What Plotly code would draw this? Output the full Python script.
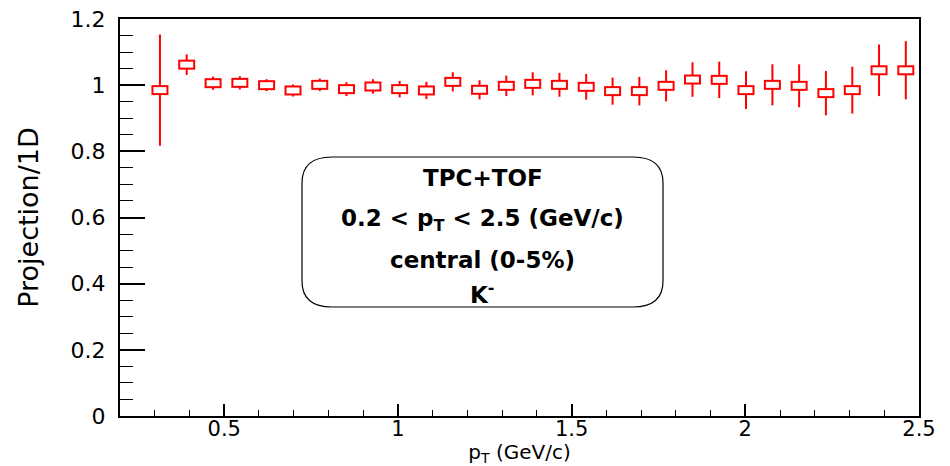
import plotly.graph_objects as go

# ---- data ----
pt = [0.315, 0.392, 0.468, 0.545, 0.622, 0.698, 0.775, 0.852, 0.928, 1.005,
      1.082, 1.158, 1.235, 1.312, 1.388, 1.465, 1.542, 1.618, 1.695, 1.772,
      1.848, 1.925, 2.002, 2.078, 2.155, 2.232, 2.308, 2.385, 2.462]
ratio = [0.985, 1.062, 1.006, 1.007, 1.000, 0.984, 1.001, 0.988, 0.996, 0.988,
         0.984, 1.010, 0.986, 0.998, 1.004, 1.001, 0.995, 0.982, 0.982, 0.998,
         1.017, 1.016, 0.985, 1.001, 0.998, 0.976, 0.985, 1.045, 1.045]
ratio_err = [0.168, 0.031, 0.020, 0.020, 0.018, 0.018, 0.019, 0.021, 0.022, 0.025,
             0.026, 0.029, 0.029, 0.031, 0.035, 0.036, 0.039, 0.041, 0.043, 0.047,
             0.052, 0.055, 0.057, 0.062, 0.065, 0.067, 0.071, 0.078, 0.088]
x_ticks = [0.5, 1, 1.5, 2, 2.5]
x_ticklabels = ["0.5", "1", "1.5", "2", "2.5"]
y_ticks = [0, 0.2, 0.4, 0.6, 0.8, 1, 1.2]
y_ticklabels = ["0", "0.2", "0.4", "0.6", "0.8", "1", "1.2"]
box_lines = ["<b>TPC+TOF</b>",
             "<b>0.2 < p<sub>T</sub> < 2.5 (GeV/c)</b>",
             "<b>central (0-5%)</b>",
             "<b>K<sup>-</sup></b>"]

# ---- layout geometry (page has an 8px body margin) ----
OFF = 8
W, H = 950 - OFF, 466 - OFF
ML, MT = 120 - OFF, 19 - OFF
MR = W - (919 - OFF)
MB = H - (416 - OFF)
PW, PH = W - ML - MR, H - MT - MB
XR = [0.2, 2.5]
YR = [0, 1.2]
px_per_x = PW / (XR[1] - XR[0])

RED = "#ff0000"
FONT = "DejaVu Sans"

# marker box: 17 x 10 px outer, 2 px line
outer_hw = [8.5 / px_per_x] * len(pt)
inner_hw = [6.5 / px_per_x] * len(pt)

fig = go.Figure()
fig.add_trace(go.Scatter(
    x=pt, y=ratio, mode="markers",
    marker=dict(size=1, color="rgba(0,0,0,0)"),
    error_y=dict(type="data", array=ratio_err, color=RED, thickness=2, width=0),
    error_x=dict(type="data", array=outer_hw, color=RED, thickness=10, width=0),
    showlegend=False, hoverinfo="skip"))
fig.add_trace(go.Scatter(
    x=pt, y=ratio, mode="markers",
    marker=dict(size=1, color="rgba(0,0,0,0)"),
    error_x=dict(type="data", array=inner_hw, color="white", thickness=6, width=0),
    showlegend=False, hoverinfo="skip"))

# rounded text box (paper coordinates, given in page pixels)
def px2paper(px, py):
    return (px - OFF - ML) / PW, (H - MB - (py - OFF)) / PH

x0, y0 = px2paper(302, 157)
x1, y1 = px2paper(663, 307)
rx, ry = 30 / PW, 26 / PH
path = (f"M {x0+rx},{y0} L {x1-rx},{y0} Q {x1},{y0} {x1},{y0-ry} "
        f"L {x1},{y1+ry} Q {x1},{y1} {x1-rx},{y1} L {x0+rx},{y1} "
        f"Q {x0},{y1} {x0},{y1+ry} L {x0},{y0-ry} Q {x0},{y0} {x0+rx},{y0} Z")
fig.add_shape(type="path", path=path, xref="paper", yref="paper",
              line=dict(color="black", width=1.2), fillcolor="white", layer="below")

cx = (302 + 663) / 2
for txt, py in zip(box_lines, [178, 220, 260, 293]):
    xp, yp = px2paper(cx, py)
    fig.add_annotation(text=txt, x=xp, y=yp, xref="paper", yref="paper",
                       showarrow=False, xanchor="center", yanchor="middle",
                       font=dict(family=FONT, size=23, color="black"))

fig.update_layout(
    width=W, height=H,
    margin=dict(l=ML, r=MR, t=MT, b=MB, autoexpand=False),
    paper_bgcolor="white", plot_bgcolor="white",
    font=dict(family=FONT, color="black"),
)
fig.update_xaxes(
    range=XR, tickvals=x_ticks, ticktext=x_ticklabels,
    showgrid=False, zeroline=False,
    showline=True, linecolor="black", linewidth=2, mirror=True,
    ticks="inside", ticklen=12, tickwidth=1.5, tickcolor="black",
    minor=dict(dtick=0.1, tick0=0, ticks="inside", ticklen=6, tickwidth=1.2,
               tickcolor="black", showgrid=False),
    tickfont=dict(family=FONT, size=21, color="black"),
    ticklabelstandoff=-7, ticklabeloverflow="allow",
    title=dict(text="p<sub>T</sub> (GeV/c)", font=dict(family=FONT, size=20, color="black"),
               standoff=0),
)
fig.update_yaxes(
    range=YR, tickvals=y_ticks, ticktext=y_ticklabels,
    showgrid=False, zeroline=False,
    showline=True, linecolor="black", linewidth=2, mirror=True,
    ticks="inside", ticklen=25, tickwidth=1.5, tickcolor="black",
    minor=dict(dtick=0.05, tick0=0, ticks="inside", ticklen=13, tickwidth=1.2,
               tickcolor="black", showgrid=False),
    tickfont=dict(family=FONT, size=22, color="black"),
    ticklabelstandoff=8, ticklabeloverflow="allow",
    title=dict(text="Projection/1D", font=dict(family=FONT, size=27, color="black"),
               standoff=24),
)

fig.write_html("out.html")
